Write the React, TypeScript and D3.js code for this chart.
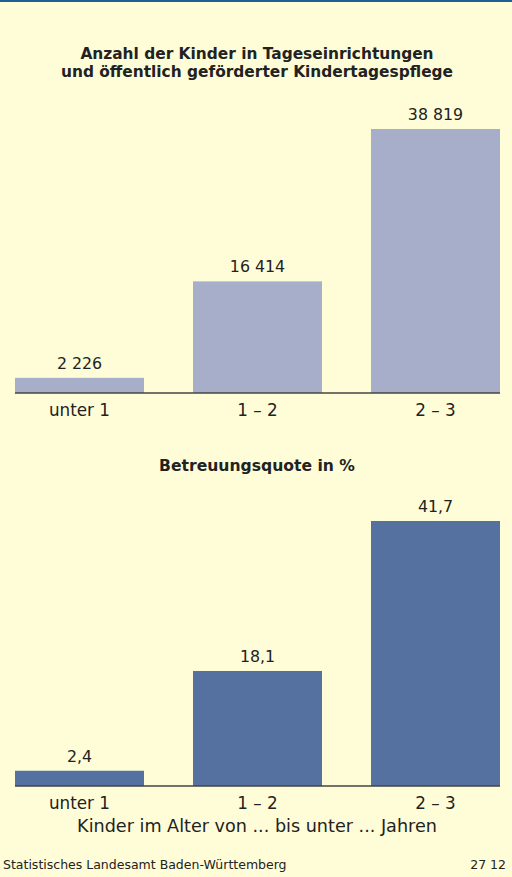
import * as d3 from "d3";

const W = 512;
const H = 877;

const categories = ["unter 1", "1 – 2", "2 – 3"];
const childCounts = [2226, 16414, 38819];
const childCountLabels = ["2 226", "16 414", "38 819"];
const careRates = [2.4, 18.1, 41.7];
const careRateLabels = ["2,4", "18,1", "41,7"];

const FONT = "'DejaVu Sans', Verdana, sans-serif";
const TEXT = "#222222";

type PanelProps = {
  values: number[];
  labels: string[];
  color: string;
  baseY: number;
  topY: number;
};

const xScale = d3.scaleBand<string>()
  .domain(categories)
  .range([15, 500])
  .paddingInner(0.2753)
  .paddingOuter(0);

const Panel = ({ values, labels, color, baseY, topY }: PanelProps) => {
  const yScale = d3.scaleLinear()
    .domain([0, d3.max(values) as number])
    .range([baseY, topY]);

  return (
    <g>
      {values.map((v, i) => {
        const x = xScale(categories[i]) as number;
        const y = yScale(v);
        return (
          <g key={i}>
            <rect x={x} y={y} width={xScale.bandwidth()} height={baseY - y} fill={color} />
            <text x={x + xScale.bandwidth() / 2} y={y - 9} textAnchor="middle" fontSize={15.8} fill={TEXT}>
              {labels[i]}
            </text>
            <text x={x + xScale.bandwidth() / 2} y={baseY + 23} textAnchor="middle" fontSize={16.8} fill={TEXT}>
              {categories[i]}
            </text>
          </g>
        );
      })}
      <line x1={15} x2={500} y1={baseY} y2={baseY} stroke="#444444" strokeWidth={1.5} />
    </g>
  );
};

export default function App() {
  return (
    <svg width={W} height={H} style={{ position: "absolute", left: 0, top: 0 }} fontFamily={FONT}>
      <rect x={0} y={0} width={W} height={H} fill="#fffdd8" />
      <rect x={0} y={0} width={W} height={2} fill="#1f5f96" />

      <text x={257} y={59} textAnchor="middle" fontSize={15.4} fontWeight="bold" fill={TEXT}>
        Anzahl der Kinder in Tageseinrichtungen
      </text>
      <text x={257} y={77} textAnchor="middle" fontSize={15.4} fontWeight="bold" fill={TEXT}>
        und öffentlich geförderter Kindertagespflege
      </text>
      <Panel values={childCounts} labels={childCountLabels} color="#a7aec9" baseY={393} topY={129} />

      <text x={257} y={471} textAnchor="middle" fontSize={15.6} fontWeight="bold" fill={TEXT}>
        Betreuungsquote in %
      </text>
      <Panel values={careRates} labels={careRateLabels} color="#55719f" baseY={786} topY={521} />

      <text x={257} y={832} textAnchor="middle" fontSize={17.6} fill={TEXT}>
        Kinder im Alter von ... bis unter ... Jahren
      </text>

      <text x={3} y={869} fontSize={12.5} fill={TEXT}>
        Statistisches Landesamt Baden-Württemberg
      </text>
      <text x={506} y={869} textAnchor="end" fontSize={12.5} fill={TEXT}>
        27 12
      </text>
    </svg>
  );
}
